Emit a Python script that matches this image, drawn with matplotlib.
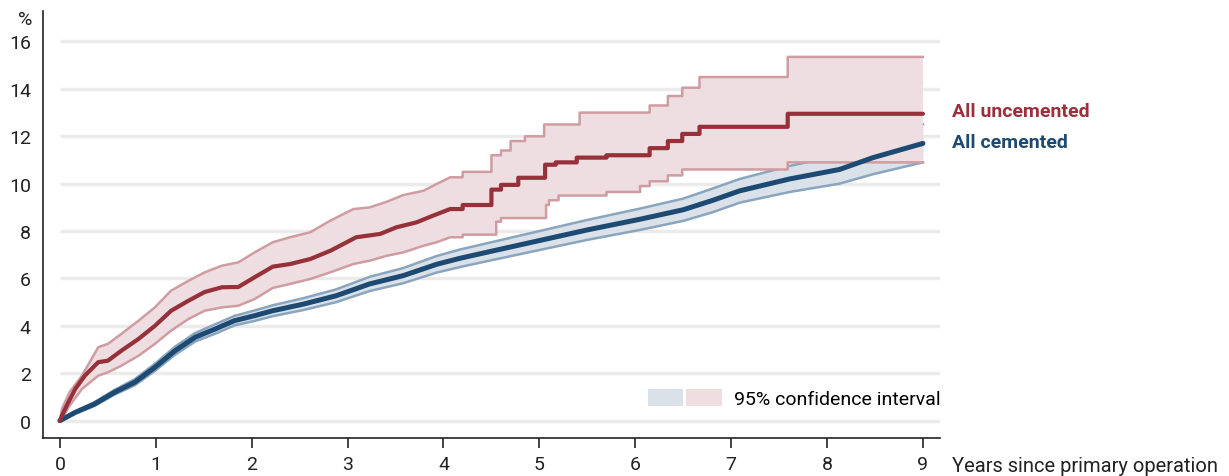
import matplotlib
matplotlib.use("Agg")
import matplotlib.pyplot as plt
from matplotlib.patches import Patch
from matplotlib.legend_handler import HandlerTuple
import numpy as np

plt.rcParams['font.family'] = ['Roboto', 'DejaVu Sans']

# ---- data (years, %) ----
# uncemented: smooth-ish part, then the stepped tail
unc_t = [0, 0.02, 0.07, 0.16, 0.26, 0.40, 0.50, 0.64, 0.82, 0.99, 1.16, 1.34, 1.51, 1.69,
         1.86, 2.03, 2.22, 2.40, 2.61, 2.82, 2.92, 3.09, 3.34, 3.51, 3.72, 3.89, 4.07]
unc_mean = [0, 0.2, 0.63, 1.34, 1.9, 2.47, 2.53, 2.95, 3.45, 4.0, 4.64, 5.06, 5.43, 5.63,
            5.64, 6.05, 6.5, 6.61, 6.82, 7.17, 7.38, 7.74, 7.88, 8.16, 8.37, 8.65, 8.93]
unc_step_t = [4.2, 4.5, 4.6, 4.78, 5.06, 5.17, 5.39, 5.70, 6.15, 6.34, 6.49, 6.67, 7.59, 9.0]
unc_step_mean = [9.1, 9.75, 9.95, 10.25, 10.8, 10.9, 11.1, 11.2, 11.5, 11.8, 12.1, 12.4, 12.95, 12.95]

unc_ci_t = [0, 0.02, 0.10, 0.23, 0.40, 0.50, 0.64, 0.82, 0.99, 1.16, 1.34, 1.51, 1.69, 1.86,
            2.03, 2.22, 2.40, 2.61, 2.82, 3.06, 3.23, 3.41, 3.58, 3.79, 3.93, 4.07]
unc_hi = [0, 0.49, 1.2, 1.9, 3.1, 3.24, 3.66, 4.22, 4.78, 5.49, 5.9, 6.26, 6.54, 6.68,
          7.1, 7.53, 7.74, 7.95, 8.44, 8.93, 9.0, 9.24, 9.52, 9.7, 9.99, 10.27]
unc_lo = [0, 0.07, 0.63, 1.34, 1.9, 2.04, 2.32, 2.74, 3.24, 3.8, 4.29, 4.64, 4.78, 4.85,
          5.13, 5.6, 5.77, 5.98, 6.26, 6.61, 6.75, 6.96, 7.1, 7.38, 7.53, 7.74]
unc_hi_step_t = [4.2, 4.5, 4.6, 4.7, 4.85, 5.05, 5.42, 6.15, 6.34, 6.49, 6.67, 7.59, 9.0]
unc_hi_step = [10.5, 11.2, 11.4, 11.8, 12.0, 12.5, 13.0, 13.3, 13.7, 14.05, 14.5, 15.35, 15.35]
unc_lo_step_t = [4.2, 4.55, 4.6, 5.07, 5.1, 5.2, 5.7, 6.05, 6.15, 6.34, 6.49, 7.59, 9.0]
unc_lo_step = [7.85, 8.4, 8.55, 9.1, 9.3, 9.5, 9.65, 9.9, 10.1, 10.35, 10.6, 10.9, 10.9]

# cemented
cem_t = [0, 0.16, 0.36, 0.57, 0.78, 0.99, 1.20, 1.41, 1.62, 1.82, 2.03, 2.22, 2.54, 2.88,
         3.23, 3.58, 3.93, 4.17, 4.5, 5.0, 5.5, 6.05, 6.5, 6.81, 7.09, 7.61, 8.13, 8.48, 9.0]
cem_mean = [0, 0.35, 0.7, 1.2, 1.62, 2.25, 2.95, 3.52, 3.87, 4.22, 4.43, 4.64, 4.92, 5.27,
            5.77, 6.12, 6.6, 6.85, 7.15, 7.6, 8.05, 8.5, 8.9, 9.3, 9.7, 10.2, 10.6, 11.1, 11.7]
cem_lo = [0, 0.30, 0.62, 1.10, 1.49, 2.10, 2.78, 3.34, 3.67, 4.02, 4.21, 4.41, 4.67, 5.00,
          5.47, 5.80, 6.25, 6.48, 6.77, 7.20, 7.63, 8.05, 8.43, 8.80, 9.2, 9.65, 10.0, 10.4, 10.9]
cem_hi = [0, 0.40, 0.78, 1.30, 1.75, 2.40, 3.12, 3.70, 4.07, 4.42, 4.65, 4.87, 5.17, 5.54,
          6.07, 6.44, 6.95, 7.22, 7.53, 8.00, 8.47, 8.95, 9.37, 9.80, 10.2, 10.75, 11.2, 11.8, 12.5]

xticks = list(range(0, 10))
yticks = list(range(0, 17, 2))

red = '#963039'
red_ci = '#cf9ca2'
red_fill = '#eedde1'
blue = '#1d4a72'
blue_ci = '#8aa5be'
blue_fill = '#dae1e9'


def with_steps(t, v, st, sv):
    # smooth part followed by a post-step tail
    xs = list(t) + list(np.repeat(st, 2)[:-1])
    ys = list(v) + [v[-1]] + list(np.repeat(sv, 2)[:-2])
    return np.array(xs), np.array(ys)


ux, uy = with_steps(unc_t, unc_mean, unc_step_t, unc_step_mean)
hx, hy = with_steps(unc_ci_t, unc_hi, unc_hi_step_t, unc_hi_step)
lx, ly = with_steps(unc_ci_t, unc_lo, unc_lo_step_t, unc_lo_step)

fig = plt.figure(figsize=(12.29, 4.77), dpi=100)
ax = fig.add_axes([0.0347, 0.0797, 0.7303, 0.8953])
ax.set_xlim(-0.18, 9.18)
ax.set_ylim(-0.73, 17.29)

ax.hlines(yticks, 0, 9.18, color='#ebebeb', lw=2.5, zorder=1)

# cemented band
ax.fill_between(cem_t, cem_lo, cem_hi, color=blue_fill, lw=0, zorder=2)
ax.plot(cem_t, cem_lo, color=blue_ci, lw=1.8, zorder=2.5)
ax.plot(cem_t, cem_hi, color=blue_ci, lw=1.8, zorder=2.5)

# uncemented band
ax.fill(np.r_[hx, lx[::-1]], np.r_[hy, ly[::-1]], color=red_fill, lw=0, zorder=3)
ax.plot(hx, hy, color=red_ci, lw=1.8, zorder=3.5)
ax.plot(lx, ly, color=red_ci, lw=1.8, zorder=3.5)

ax.plot(cem_t, cem_mean, color=blue, lw=3.6, zorder=4, solid_capstyle='round')
ax.plot(ux, uy, color=red, lw=3.0, zorder=5, solid_capstyle='round')

ax.text(9.30, unc_step_mean[-1] + 0.12, 'All uncemented', color='#9b2f3b', fontsize=14,
        fontweight='bold', va='center', ha='left', clip_on=False)
ax.text(9.30, cem_mean[-1] + 0.06, 'All cemented', color=blue, fontsize=14,
        fontweight='bold', va='center', ha='left', clip_on=False)

h = (Patch(facecolor=blue_fill, edgecolor='none'), Patch(facecolor=red_fill, edgecolor='none'))
ax.legend([h], ['95% confidence interval'], handler_map={tuple: HandlerTuple(ndivide=None, pad=0.15)},
          handlelength=3.8, handleheight=1.0, handletextpad=0.6, frameon=False, fontsize=14,
          loc='lower right', bbox_to_anchor=(1.0, 0.07), borderaxespad=0, borderpad=0)

for s in ['top', 'right']:
    ax.spines[s].set_visible(False)
for s in ['left', 'bottom']:
    ax.spines[s].set_color('#222222')
    ax.spines[s].set_linewidth(1.2)

ax.set_xticks(xticks)
ax.set_yticks(yticks)
ax.tick_params(axis='x', length=7.5, width=1.2, color='#222222', labelsize=14, pad=5,
               labelcolor='#222222')
ax.tick_params(axis='y', length=0, labelsize=14, pad=8.5, labelcolor='#222222')

ax.annotate('Years since primary operation', xy=(1.013, 0), xycoords='axes fraction',
            xytext=(0, -19.5), textcoords='offset points', ha='left', va='center',
            fontsize=14.5, color='#222222', annotation_clip=False)
fig.text(32 / 1229, 0.958, '%', ha='right', va='center', fontsize=14, color='#222222')

fig.savefig('out.png', dpi=100)
